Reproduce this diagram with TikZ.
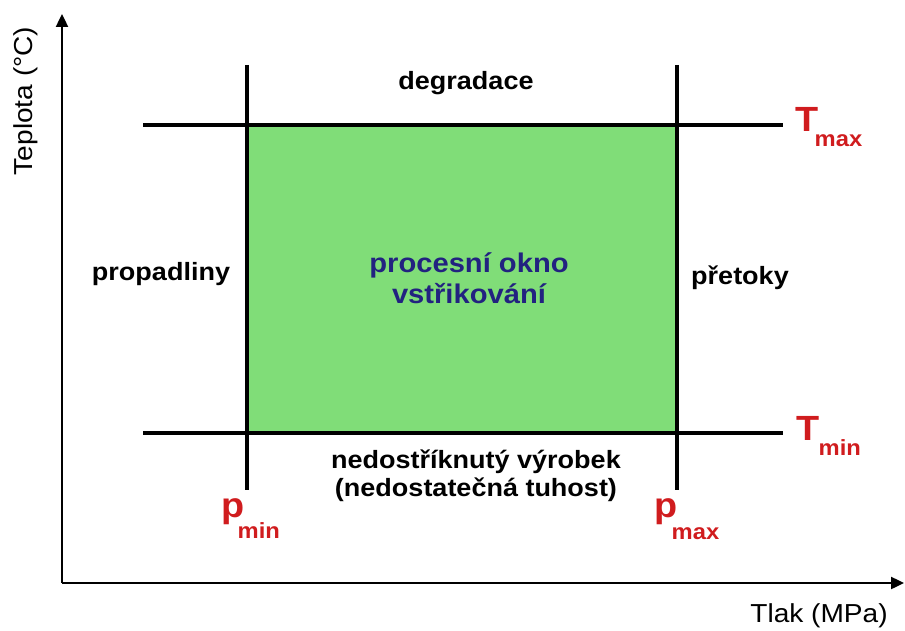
\documentclass[tikz,border=0pt]{standalone}
\usepackage{fontspec}
\setmainfont{Liberation Sans}[FakeStretch=1.08]
\usetikzlibrary{arrows.meta}
\definecolor{windowgreen}{RGB}{128,221,120}
\definecolor{labelred}{RGB}{208,28,30}
\definecolor{labelblue}{RGB}{34,34,128}
\begin{document}
\begin{tikzpicture}[x=1pt,y=-1pt,
  axis/.style={line width=2.4pt,-{Triangle[length=13pt,width=12pt]}},
  limit/.style={line width=3.6pt},
  region/.style={font=\bfseries\fontsize{25}{28}\selectfont,inner sep=0pt,anchor=base,align=center},
  windowtxt/.style={font=\bfseries\fontsize{27}{31}\selectfont,text=labelblue,inner sep=0pt,anchor=base,align=center},
  axislbl/.style={font=\fontsize{26}{30}\selectfont,inner sep=0pt},
  bigsym/.style={font=\bfseries\fontsize{35}{35}\selectfont,text=labelred,inner sep=0pt,anchor=base west},
  subsym/.style={font=\bfseries\fontsize{22}{22}\selectfont,text=labelred,inner sep=0pt,anchor=base west}]
\path[use as bounding box] (0,0) rectangle (905,631);

% corner points of the process window
\coordinate (pminT) at (247,125);
\coordinate (pmaxT) at (677,125);
\coordinate (pminB) at (247,433);
\coordinate (pmaxB) at (677,433);

\fill[windowgreen] (pminT) rectangle (pmaxB);

% limit lines
\coordinate (tmaxL) at (143,125);
\coordinate (tmaxR) at (783,125);
\coordinate (tminL) at (143,433);
\coordinate (tminR) at (783,433);
\coordinate (pminU) at (247,65);
\coordinate (pminD) at (247,490);
\coordinate (pmaxU) at (677,65);
\coordinate (pmaxD) at (677,490);
\draw[limit] (tmaxL) -- (tmaxR);
\draw[limit] (tminL) -- (tminR);
\draw[limit] (pminU) -- (pminD);
\draw[limit] (pmaxU) -- (pmaxD);

% axes
\coordinate (origin) at (62,583);
\coordinate (yend) at (62,14);
\coordinate (xend) at (904,583);
\draw[axis] (origin) -- (yend);
\draw[axis] (origin) -- (xend);
\node[axislbl,rotate=90] (ylbl) at (26,101) {Teplota (°C)};
\node[axislbl,anchor=base] (xlbl) at (819,622) {Tlak (MPa)};

% regions around the window (two-line nodes sit on the baseline of their last line)
\node[region] (degr) at (466,90) {degradace};
\node[region] (prop) at (161,280) {propadliny};
\node[region] (pret) at (740,284) {přetoky};
\node[region] (nedo) at (476,496) {nedostříknutý výrobek\\(nedostatečná tuhost)};
\node[windowtxt] (okno) at (469,303) {procesní okno\\vstřikování};

% limit symbols
\node[bigsym] (tmax) at (795,132) {T};
\node[subsym] (tmaxs) at ([xshift=-4pt,yshift=-15pt]tmax.base east) {max};
\node[bigsym] (tmin) at (796,440) {T};
\node[subsym] (tmins) at ([xshift=-1pt,yshift=-15pt]tmin.base east) {min};
\node[bigsym] (pmin) at (221,517) {p};
\node[subsym] (pmins) at ([xshift=-7pt,yshift=-21pt]pmin.base east) {min};
\node[bigsym] (pmax) at (654,517) {p};
\node[subsym] (pmaxs) at ([xshift=-6pt,yshift=-22pt]pmax.base east) {max};
\end{tikzpicture}
\end{document}
